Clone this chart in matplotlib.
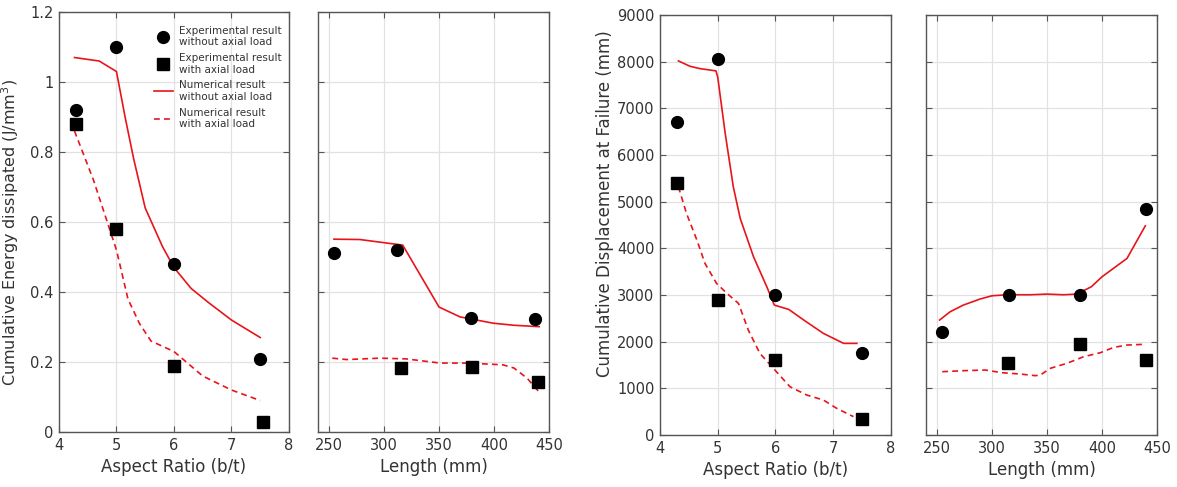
import matplotlib
matplotlib.use("Agg")
import matplotlib.pyplot as plt

# ---- data: energy vs aspect ratio ----
ar_exp = [4.3, 5.0, 6.0, 7.5]
energy_exp_no_load = [0.92, 1.10, 0.48, 0.21]
ar_exp_sq = [4.3, 5.0, 6.0, 7.55]
energy_exp_load = [0.88, 0.58, 0.19, 0.03]
ar_num_no_load = [4.27, 4.7, 5.0, 5.15, 5.3, 5.5, 5.8, 6.0, 6.3, 6.6, 7.0, 7.5]
energy_num_no_load = [1.07, 1.06, 1.03, 0.90, 0.78, 0.64, 0.53, 0.47, 0.41, 0.37, 0.32, 0.27]
ar_num_load = [4.27, 4.6, 4.8, 5.0, 5.2, 5.4, 5.6, 6.0, 6.5, 7.0, 7.5]
energy_num_load = [0.86, 0.72, 0.62, 0.52, 0.38, 0.31, 0.26, 0.23, 0.16, 0.12, 0.09]

# ---- data: energy vs length ----
len_exp = [254.5, 312, 379, 437]
len_energy_exp_no_load = [0.512, 0.521, 0.326, 0.323]
len_exp_sq = [315, 380, 440]
len_energy_exp_load = [0.182, 0.187, 0.142]
len_num_no_load = [254.5, 278, 317, 350, 369, 399, 418, 441]
len_energy_num_no_load = [0.551, 0.550, 0.534, 0.357, 0.329, 0.311, 0.305, 0.301]
len_num_load = [253, 266, 296, 320, 351, 375, 408, 418, 430, 441]
len_energy_num_load = [0.211, 0.207, 0.211, 0.209, 0.197, 0.197, 0.192, 0.183, 0.154, 0.114]

# ---- data: displacement vs aspect ratio ----
disp_exp_no_load = [6700, 8050, 3000, 1750]
ar_disp_sq = [4.3, 5.0, 6.0, 7.5]
disp_exp_load = [5400, 2900, 1600, 340]
ar_disp_num_no_load = [4.32, 4.52, 4.69, 4.97, 5.0, 5.13, 5.27, 5.39, 5.62, 5.85, 5.98,
                       6.23, 6.49, 6.83, 7.18, 7.41]
disp_num_no_load = [8016, 7901, 7852, 7802, 7673, 6460, 5318, 4640, 3819, 3176, 2784,
                    2691, 2463, 2177, 1963, 1963]
ar_disp_num_load = [4.32, 4.46, 4.64, 4.78, 4.98, 5.16, 5.36, 5.53, 5.73, 5.99, 6.25,
                    6.54, 6.83, 7.06, 7.35]
disp_num_load = [5318, 4747, 4176, 3676, 3248, 3034, 2819, 2248, 1749, 1392, 1035,
                 857, 749, 571, 393]

# ---- data: displacement vs length ----
len_disp_exp = [254.8, 315.5, 380.3, 440]
len_disp_exp_no_load = [2200, 3000, 3000, 4850]
len_disp_exp_sq = [314.8, 379.7, 439.7]
len_disp_exp_load = [1550, 1950, 1600]
len_disp_num_no_load = [252.4, 262, 274, 289, 300, 313.6, 334.8, 350, 365, 377, 390.3,
                        400, 422.7, 439.4]
len_disp_num_no_load_y = [2463, 2641, 2784, 2912, 2983, 3005, 3005, 3019, 3005, 3019,
                          3176, 3390, 3783, 4482]
len_disp_num_load = [254.8, 274, 294, 309, 325.8, 339.4, 344, 353, 368, 383.3, 398.5,
                     410.6, 422.7, 436.4]
len_disp_num_load_y = [1356, 1378, 1392, 1335, 1306, 1271, 1285, 1428, 1535, 1677, 1763,
                       1877, 1927, 1941]

TEXT = "#333333"
SPINE = "#555555"
RED = "#e8141b"

plt.rcParams["font.family"] = "DejaVu Sans"

fig = plt.figure(figsize=(11.77, 4.87), dpi=100)


def style(ax, xlim, xticks, ylim, yticks, ylabels=True):
    ax.set_xlim(*xlim)
    ax.set_ylim(*ylim)
    ax.set_xticks(xticks)
    ax.set_yticks(yticks)
    ax.grid(True, color="#e2e2e2", linewidth=0.9)
    ax.set_axisbelow(True)
    ax.tick_params(direction="in", top=True, right=True, length=4,
                   color=SPINE, labelcolor=TEXT, labelsize=10.5, pad=4)
    if not ylabels:
        ax.tick_params(labelleft=False)
    for s in ax.spines.values():
        s.set_color(SPINE)
        s.set_linewidth(1.0)


def draw(ax, xe, ye, xs, ys, xn, yn, xd, yd):
    ax.plot(xn, yn, color=RED, lw=1.2, label="Numerical result\nwithout axial load")
    ax.plot(xd, yd, color=RED, lw=1.2, ls=(0, (3.5, 2.5)),
            label="Numerical result\nwith axial load")
    ax.plot(xe, ye, "o", color="black", ms=8.5, label="Experimental result\nwithout axial load")
    ax.plot(xs, ys, "s", color="black", ms=8.5, label="Experimental result\nwith axial load")


ax1 = fig.add_axes([0.0501, 0.1129, 0.1954, 0.8624])
draw(ax1, ar_exp, energy_exp_no_load, ar_exp_sq, energy_exp_load,
     ar_num_no_load, energy_num_no_load, ar_num_load, energy_num_load)
style(ax1, (4, 8), [4, 5, 6, 7, 8], (0, 1.2), [0, 0.2, 0.4, 0.6, 0.8, 1, 1.2])
ax1.set_yticklabels(["0", "0.2", "0.4", "0.6", "0.8", "1", "1.2"])
ax1.set_xlabel("Aspect Ratio (b/t)", fontsize=12, color=TEXT)
ax1.set_ylabel("Cumulative Energy dissipated (J/mm$^3$)", fontsize=11.5, color=TEXT)
ax1.yaxis.set_label_coords(-0.165, 0.475)
h, l = ax1.get_legend_handles_labels()
order = [2, 3, 0, 1]
ax1.legend([h[i] for i in order], [l[i] for i in order], loc="upper right",
           frameon=False, fontsize=7.5, handlelength=1.8, handletextpad=0.6,
           labelspacing=0.55, bbox_to_anchor=(1.0, 0.985), borderaxespad=0.3,
           labelcolor=TEXT)

ax2 = fig.add_axes([0.2702, 0.1129, 0.1963, 0.8624])
draw(ax2, len_exp, len_energy_exp_no_load, len_exp_sq, len_energy_exp_load,
     len_num_no_load, len_energy_num_no_load, len_num_load, len_energy_num_load)
style(ax2, (240, 450), [250, 300, 350, 400, 450], (0, 1.2),
      [0, 0.2, 0.4, 0.6, 0.8, 1, 1.2], ylabels=False)
ax2.set_xlabel("Length (mm)", fontsize=12, color=TEXT)

ax3 = fig.add_axes([0.5607, 0.1068, 0.1963, 0.8624])
draw(ax3, ar_exp, disp_exp_no_load, ar_disp_sq, disp_exp_load,
     ar_disp_num_no_load, disp_num_no_load, ar_disp_num_load, disp_num_load)
style(ax3, (4, 8), [4, 5, 6, 7, 8], (0, 9000), list(range(0, 9001, 1000)))
ax3.set_xlabel("Aspect Ratio (b/t)", fontsize=12, color=TEXT)
ax3.set_ylabel("Cumulative Displacement at Failure (mm)", fontsize=12, color=TEXT)
ax3.yaxis.set_label_coords(-0.2, 0.55)

ax4 = fig.add_axes([0.7867, 0.1068, 0.1963, 0.8624])
draw(ax4, len_disp_exp, len_disp_exp_no_load, len_disp_exp_sq, len_disp_exp_load,
     len_disp_num_no_load, len_disp_num_no_load_y, len_disp_num_load, len_disp_num_load_y)
style(ax4, (240, 450), [250, 300, 350, 400, 450], (0, 9000),
      list(range(0, 9001, 1000)), ylabels=False)
ax4.set_xlabel("Length (mm)", fontsize=12, color=TEXT)

fig.savefig("out.png", dpi=100)
